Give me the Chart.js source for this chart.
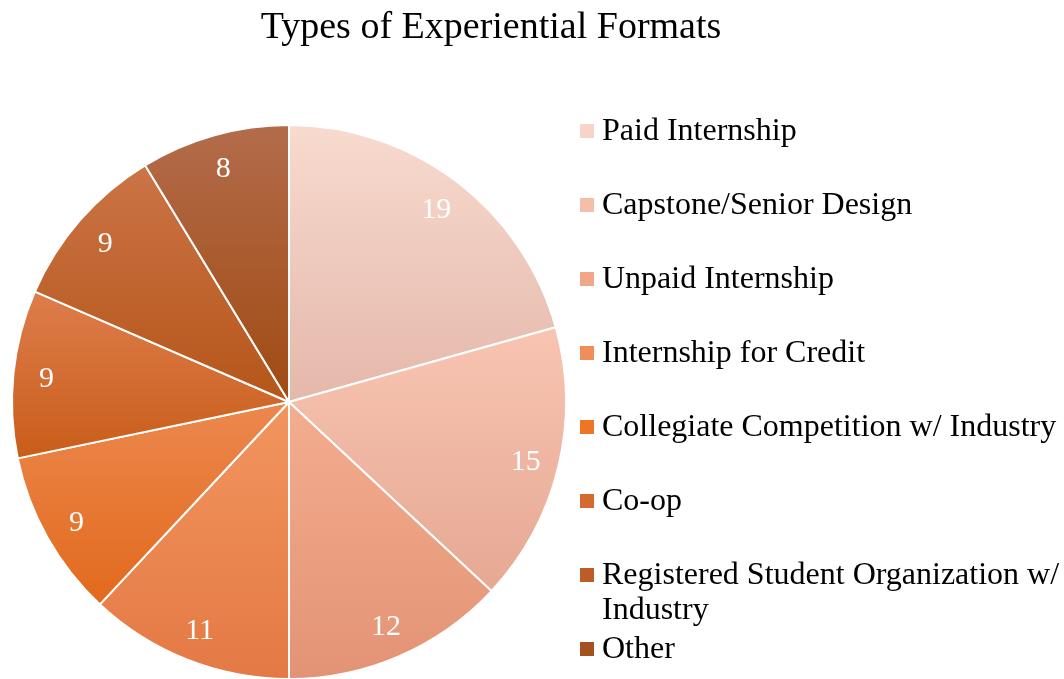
<!DOCTYPE html>
<html>
<head>
<meta charset="utf-8">
<script src="https://cdn.jsdelivr.net/npm/chart.js@4.4.0/dist/chart.umd.min.js"></script>
<style>
  html, body { margin: 0; padding: 0; background: #fff; overflow: hidden; }
  #wrap { width: 1064px; height: 700px; }
</style>
</head>
<body>
<div id="wrap"><canvas id="chart" width="1064" height="700"></canvas></div>
<script>
// chart data
const categories = [
  "Paid Internship",
  "Capstone/Senior Design",
  "Unpaid Internship",
  "Internship for Credit",
  "Collegiate Competition w/ Industry",
  "Co-op",
  "Registered Student Organization w/ Industry",
  "Other",
];
const counts = [19, 15, 12, 11, 9, 9, 9, 8];
const chartTitle = "Types of Experiential Formats";

// slice colours: top and bottom of each gradient, plus legend swatch
const topColors = ["#F8DACF", "#F8C5B2", "#F4AD8F", "#F2955F", "#EC884E", "#DE7D4C", "#CB7446", "#B36C4B"];
const bottomColors = ["#E4B8AA", "#E5A893", "#E39375", "#E47944", "#E2691C", "#C95D19", "#B5561A", "#A04A12"];
const swatchColors = ["#F6D4C8", "#F4BEA9", "#F2A688", "#F08D59", "#EC7526", "#D56A30", "#BD5C27", "#A5501F"];

const SERIF = "'Liberation Serif', 'Times New Roman', serif";

function angleIn(a, start, end) {
  const TAU = Math.PI * 2;
  let x = a;
  while (x < start) x += TAU;
  return x <= end;
}

// vertical gradient per slice, spanning the slice's own height
const sliceGradients = {
  id: "sliceGradients",
  beforeDatasetsDraw(chart) {
    const ctx = chart.ctx;
    chart.getDatasetMeta(0).data.forEach((arc, i) => {
      const { x, y, startAngle, endAngle, outerRadius } = arc.getProps(["x", "y", "startAngle", "endAngle", "outerRadius"]);
      const ys = [y, y + Math.sin(startAngle) * outerRadius, y + Math.sin(endAngle) * outerRadius];
      if (angleIn(-Math.PI / 2, startAngle, endAngle)) ys.push(y - outerRadius);
      if (angleIn(Math.PI / 2, startAngle, endAngle)) ys.push(y + outerRadius);
      const g = ctx.createLinearGradient(0, Math.min(...ys), 0, Math.max(...ys));
      g.addColorStop(0, topColors[i]);
      g.addColorStop(1, bottomColors[i]);
      arc.options.backgroundColor = g;
    });
  },
};

// numbers inside slices, title and legend
const textLayer = {
  id: "textLayer",
  afterDraw(chart) {
    const ctx = chart.ctx;
    const meta = chart.getDatasetMeta(0);
    ctx.save();

    ctx.fillStyle = "#ffffff";
    ctx.font = "30px " + SERIF;
    ctx.textAlign = "center";
    ctx.textBaseline = "middle";
    meta.data.forEach((arc, i) => {
      const mid = (arc.startAngle + arc.endAngle) / 2;
      const r = arc.outerRadius * 0.88;
      ctx.fillText(String(counts[i]), arc.x + Math.cos(mid) * r, arc.y + Math.sin(mid) * r + 2);
    });

    ctx.fillStyle = "#000000";
    ctx.font = "38px " + SERIF;
    ctx.fillText(chartTitle, 491, 28);

    ctx.font = "32px " + SERIF;
    ctx.textAlign = "left";
    const textX = 602;
    const maxW = chart.width - textX;
    categories.forEach((label, i) => {
      const cy = 131 + 74 * i;
      ctx.fillStyle = swatchColors[i];
      ctx.fillRect(580, cy - 7, 14, 14);
      ctx.fillStyle = "#000000";
      const lines = wrap(ctx, label, maxW);
      lines.forEach((ln, k) => ctx.fillText(ln, textX, cy + 1 + k * 35));
    });
    ctx.restore();
  },
};

function wrap(ctx, text, maxW) {
  const words = text.split(" ");
  const lines = [];
  let cur = "";
  words.forEach((w) => {
    const test = cur ? cur + " " + w : w;
    if (ctx.measureText(test).width > maxW && cur) {
      lines.push(cur);
      cur = w;
    } else {
      cur = test;
    }
  });
  if (cur) lines.push(cur);
  return lines;
}

new Chart(document.getElementById("chart").getContext("2d"), {
  type: "pie",
  data: {
    labels: categories,
    datasets: [
      {
        data: counts,
        backgroundColor: topColors,
        borderColor: "#ffffff",
        borderWidth: 2,
      },
    ],
  },
  options: {
    responsive: false,
    animation: false,
    layout: { padding: { left: 11, right: 497, top: 124, bottom: 20 } },
    plugins: {
      legend: { display: false },
      title: { display: false },
      tooltip: { enabled: false },
    },
  },
  plugins: [sliceGradients, textLayer],
});
</script>
</body>
</html>
